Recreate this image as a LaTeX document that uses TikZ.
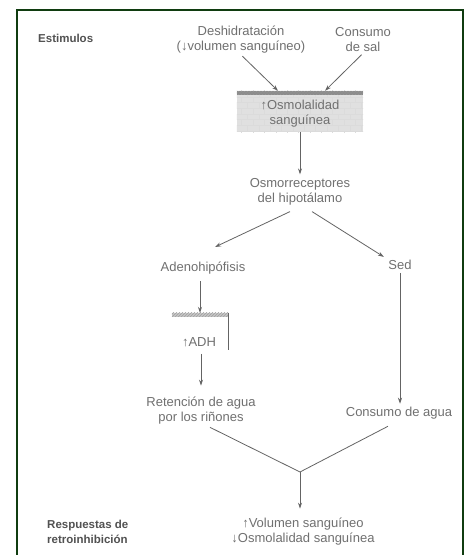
\documentclass[tikz,border=0pt]{standalone}
\usepackage{fontspec}
\setmainfont{Liberation Sans}
\usetikzlibrary{arrows.meta,patterns}

\definecolor{framegreen}{RGB}{16,60,16}
\definecolor{txt}{RGB}{112,112,112}
\definecolor{headtxt}{RGB}{82,82,82}
\definecolor{linec}{RGB}{100,100,100}
\definecolor{boxfill}{RGB}{224,224,224}
\definecolor{bandc}{RGB}{140,140,140}

\tikzset{
  lbl/.style={font=\fontsize{13}{15}\selectfont, text=txt, align=center, inner sep=1pt},
  side/.style={font=\bfseries\fontsize{11.5}{15}\selectfont, text=headtxt, align=left,
               anchor=west, inner sep=0pt},
  arr/.style={draw=linec, line width=0.8pt, -{Stealth[length=6pt,width=4pt]}},
  ln/.style={draw=linec, line width=0.8pt},
}

\begin{document}
\begin{tikzpicture}[x=1pt,y=-1pt]
\useasboundingbox (0,0) rectangle (468,555);
\fill[white] (0,0) rectangle (468,555);

% outer frame, open at the bottom
\draw[framegreen, line width=2.6pt] (17,565) -- (17,10) -- (463,10) -- (463,565);

% side headings
\node[side] (estim) at (38,38) {Estimulos};
\node[side] (resp)  at (47,532) {Respuestas de\\retroinhibición};

% stimuli
\node[lbl] (desh) at (241,40) {Deshidratación\\(↓volumen sanguíneo)};
\node[lbl] (sal)  at (363,40) {Consumo\\de sal};

% shaded box for plasma osmolality
\node[minimum width=126pt, minimum height=41pt, inner sep=0pt] (osm) at (300,111.5) {};
\fill[boxfill] (osm.north west) rectangle (osm.south east);
\path[pattern=bricks, pattern color=gray!28] (osm.north west) rectangle (osm.south east);
\fill[bandc] (osm.north west) rectangle ([yshift=-4pt]osm.north east);
\path[pattern=crosshatch dots, pattern color=gray!80] (osm.north west) rectangle ([yshift=-4pt]osm.north east);
\node[lbl] (osmtxt) at (300,113.5) {↑Osmolalidad\\sanguínea};

\node[lbl] (hypo)  at (300,192) {Osmorreceptores\\del hipotálamo};
\node[lbl] (adeno) at (203,268) {Adenohipófisis};
\node[lbl] (sed)   at (400,265) {Sed};

% ADH marker: hatched top band and right edge
\node[minimum width=56pt, minimum height=37pt, inner sep=0pt] (adhbox) at (200,331.5) {};
\fill[gray!45] (adhbox.north west) rectangle ([yshift=-4pt]adhbox.north east);
\path[pattern=north east lines, pattern color=gray!75] (adhbox.north west) rectangle ([yshift=-4pt]adhbox.north east);
\draw[linec, line width=0.8pt] (adhbox.north east) -- (adhbox.south east);
\node[lbl] (adh) at (199,342) {↑ADH};

\node[lbl] (ret)  at (201,410.5) {Retención de agua\\por los riñones};
\node[lbl] (agua) at (399,413) {Consumo de agua};
\node[lbl] (vol)  at (303,531.5) {↑Volumen sanguíneo\\↓Osmolalidad sanguínea};

% connectors
\coordinate (adenoIn) at (215,247);
\coordinate (jn) at (300,472);

\draw[arr, shorten <=2pt] (desh.south) -- (osm.north -| 278,0);
\draw[arr, shorten <=2pt] (sal.south) -- (osm.north -| 325,0);
\draw[arr, shorten >=3pt] (osm.south) -- (hypo.north);
\draw[arr] ([xshift=-10pt,yshift=-5pt]hypo.south) -- (adenoIn);
\draw[arr, shorten >=4pt] ([xshift=12pt,yshift=-5pt]hypo.south) -- (sed.north west);
\draw[arr, shorten <=6pt] (adeno.south -| adhbox.north) -- (adhbox.north);
\draw[arr, shorten <=6pt, shorten >=10pt] (adh.south -| ret.north) -- (ret.north);
\draw[arr, shorten <=2pt, shorten >=2pt] (sed.south) -- (sed.south |- agua.north);
\draw[ln] ([xshift=9pt,yshift=-2pt]ret.south) -- (jn) -- ([xshift=-11pt,yshift=-6pt]agua.south);
\draw[arr, shorten >=8pt] (jn) -- (jn |- vol.north);
\end{tikzpicture}
\end{document}
